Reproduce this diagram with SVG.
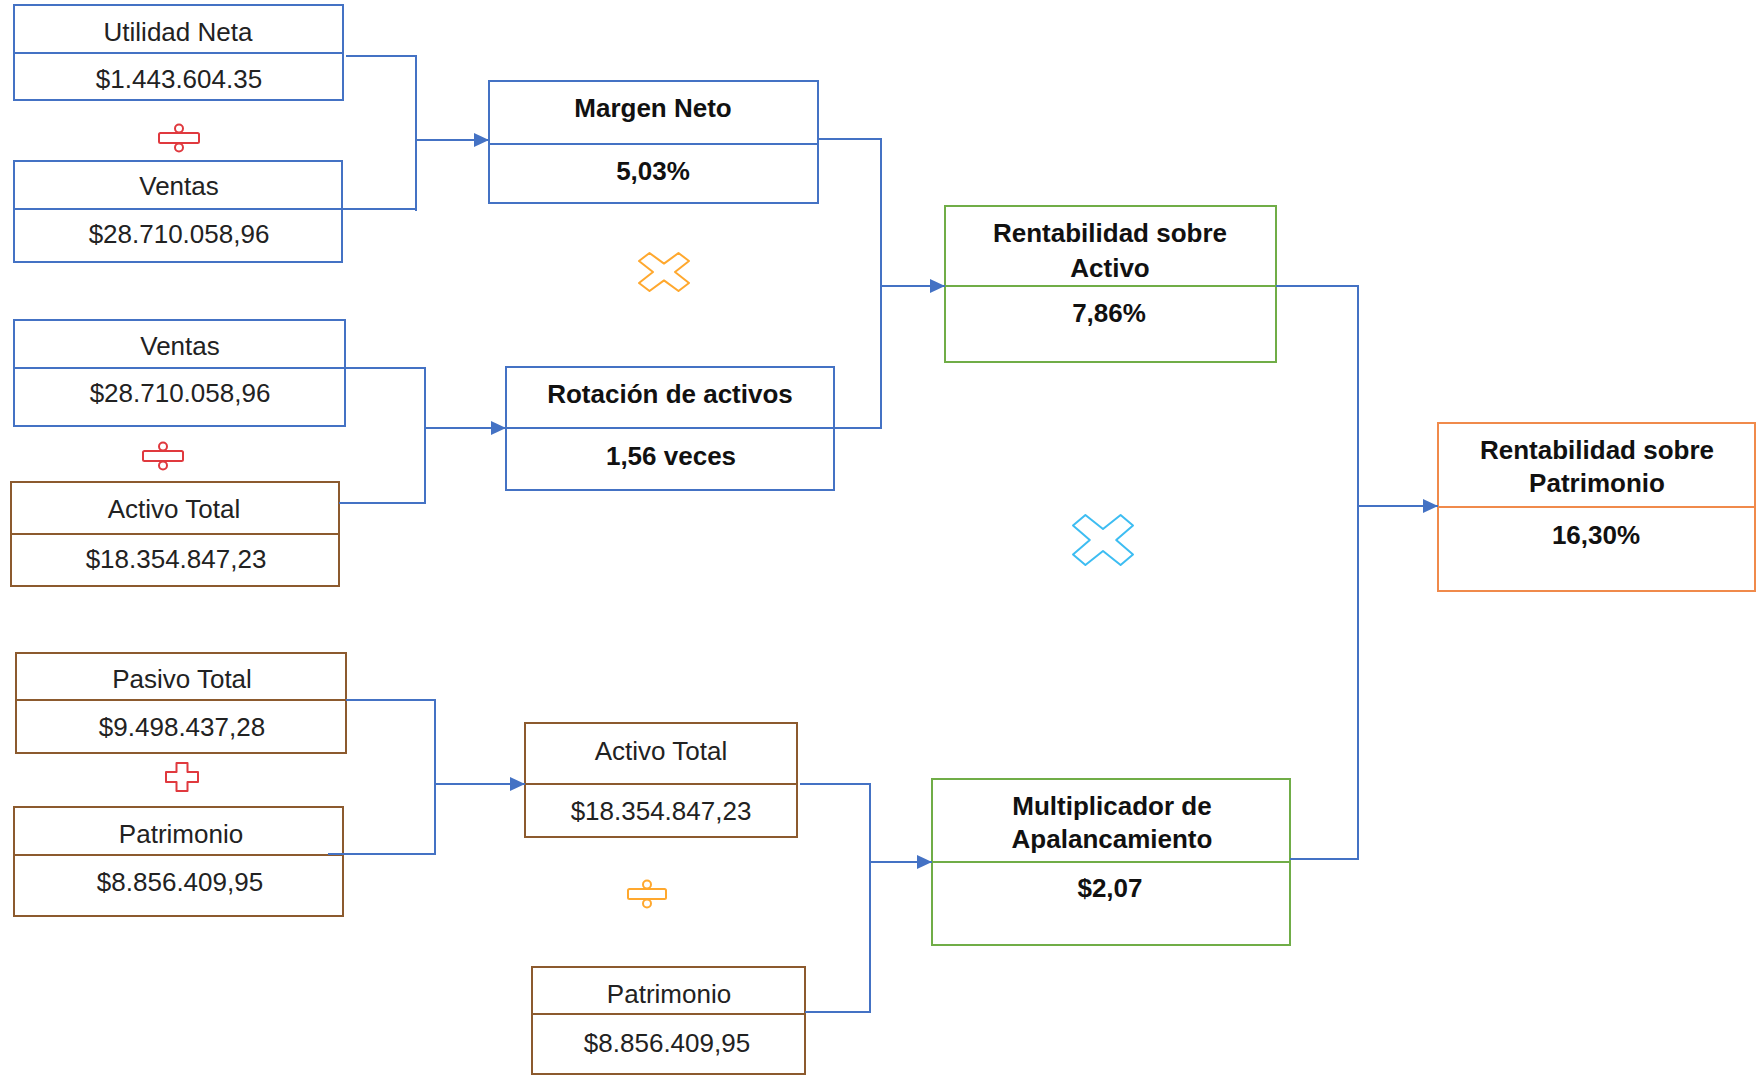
<svg xmlns="http://www.w3.org/2000/svg" width="1760" height="1076" viewBox="0 0 1760 1076">
  <style>
    .box { fill: #ffffff; stroke-width: 2; }
    .blue { stroke: #4472C4; }
    .brown { stroke: #8C5A2E; }
    .green { stroke: #70AD47; }
    .orange { stroke: #F08A4B; }
    .div { stroke-width: 2; fill: none; }
    .lbl { font-family: "Liberation Sans", Arial, sans-serif; font-size: 26px; fill: #222222; text-anchor: middle; }
    .b { font-weight: bold; fill: #111111; }
    .wire { fill: none; stroke: #4472C4; stroke-width: 2; }
    .arrow { marker-end: url(#tip); }
    .op { fill: #ffffff; stroke-width: 2; stroke-linejoin: round; }
  </style>
  <defs>
    <marker id="tip" markerUnits="userSpaceOnUse" markerWidth="15" markerHeight="14" refX="15" refY="7" orient="auto">
      <path d="M0,0 L15,7 L0,14 z" fill="#4472C4"/>
    </marker>
  </defs>
  <rect width="1760" height="1076" fill="#ffffff"/>

  <!-- input nodes -->
  <g id="n-utilidad-neta">
    <rect class="box blue" x="14" y="5" width="329" height="95"/>
    <line class="div blue" x1="14" y1="53" x2="343" y2="53"/>
    <text class="lbl" x="178" y="41">Utilidad Neta</text>
    <text class="lbl" x="179" y="88">$1.443.604.35</text>
  </g>
  <g id="n-ventas-1">
    <rect class="box blue" x="14" y="161" width="328" height="101"/>
    <line class="div blue" x1="14" y1="209" x2="342" y2="209"/>
    <text class="lbl" x="179" y="195">Ventas</text>
    <text class="lbl" x="179" y="243">$28.710.058,96</text>
  </g>
  <g id="n-ventas-2">
    <rect class="box blue" x="14" y="320" width="331" height="106"/>
    <line class="div blue" x1="14" y1="368" x2="345" y2="368"/>
    <text class="lbl" x="180" y="355">Ventas</text>
    <text class="lbl" x="180" y="402">$28.710.058,96</text>
  </g>
  <g id="n-activo-total-1">
    <rect class="box brown" x="11" y="482" width="328" height="104"/>
    <line class="div brown" x1="11" y1="534" x2="339" y2="534"/>
    <text class="lbl" x="174" y="518">Activo Total</text>
    <text class="lbl" x="176" y="568">$18.354.847,23</text>
  </g>
  <g id="n-pasivo-total">
    <rect class="box brown" x="16" y="653" width="330" height="100"/>
    <line class="div brown" x1="16" y1="700" x2="346" y2="700"/>
    <text class="lbl" x="182" y="688">Pasivo Total</text>
    <text class="lbl" x="182" y="736">$9.498.437,28</text>
  </g>
  <g id="n-patrimonio-1">
    <rect class="box brown" x="14" y="807" width="329" height="109"/>
    <line class="div brown" x1="14" y1="855" x2="343" y2="855"/>
    <text class="lbl" x="181" y="843">Patrimonio</text>
    <text class="lbl" x="180" y="891">$8.856.409,95</text>
  </g>

  <!-- intermediate nodes -->
  <g id="n-margen-neto">
    <rect class="box blue" x="489" y="81" width="329" height="122"/>
    <line class="div blue" x1="489" y1="144" x2="818" y2="144"/>
    <text class="lbl b" x="653" y="117">Margen Neto</text>
    <text class="lbl b" x="653" y="180">5,03%</text>
  </g>
  <g id="n-rotacion-activos">
    <rect class="box blue" x="506" y="367" width="328" height="123"/>
    <line class="div blue" x1="506" y1="428" x2="834" y2="428"/>
    <text class="lbl b" x="670" y="403">Rotación de activos</text>
    <text class="lbl b" x="671" y="465">1,56 veces</text>
  </g>
  <g id="n-activo-total-2">
    <rect class="box brown" x="525" y="723" width="272" height="114"/>
    <line class="div brown" x1="525" y1="784" x2="797" y2="784"/>
    <text class="lbl" x="661" y="760">Activo Total</text>
    <text class="lbl" x="661" y="820">$18.354.847,23</text>
  </g>
  <g id="n-patrimonio-2">
    <rect class="box brown" x="532" y="967" width="273" height="107"/>
    <line class="div brown" x1="532" y1="1014" x2="805" y2="1014"/>
    <text class="lbl" x="669" y="1003">Patrimonio</text>
    <text class="lbl" x="667" y="1052">$8.856.409,95</text>
  </g>

  <!-- ratio nodes -->
  <g id="n-roa">
    <rect class="box green" x="945" y="206" width="331" height="156"/>
    <line class="div green" x1="945" y1="286" x2="1276" y2="286"/>
    <text class="lbl b" x="1110" y="242">Rentabilidad sobre</text>
    <text class="lbl b" x="1110" y="277">Activo</text>
    <text class="lbl b" x="1109" y="322">7,86%</text>
  </g>
  <g id="n-multiplicador">
    <rect class="box green" x="932" y="779" width="358" height="166"/>
    <line class="div green" x1="932" y1="862" x2="1290" y2="862"/>
    <text class="lbl b" x="1112" y="815">Multiplicador de</text>
    <text class="lbl b" x="1112" y="848">Apalancamiento</text>
    <text class="lbl b" x="1110" y="897">$2,07</text>
  </g>
  <g id="n-roe">
    <rect class="box orange" x="1438" y="423" width="317" height="168"/>
    <line class="div orange" x1="1438" y1="507" x2="1755" y2="507"/>
    <text class="lbl b" x="1597" y="459">Rentabilidad sobre</text>
    <text class="lbl b" x="1597" y="492">Patrimonio</text>
    <text class="lbl b" x="1596" y="544">16,30%</text>
  </g>

  <!-- connectors, drawn over the box edges they leave from -->
  <g id="connectors">
    <path class="wire" d="M346,56 H416 V211"/>
    <path class="wire" d="M342,209 H416"/>
    <path class="wire arrow" d="M416,140 H489"/>

    <path class="wire" d="M345,368 H425 V503 H339"/>
    <path class="wire arrow" d="M425,428 H506"/>

    <path class="wire" d="M818,139 H881 V428 H834"/>
    <path class="wire arrow" d="M881,286 H945"/>

    <path class="wire" d="M346,700 H435 V854 H328"/>
    <path class="wire arrow" d="M435,784 H525"/>

    <path class="wire" d="M800,784 H870 V1012 H805"/>
    <path class="wire arrow" d="M870,862 H932"/>

    <path class="wire" d="M1276,286 H1358 V859 H1290"/>
    <path class="wire arrow" d="M1358,506 H1438"/>
  </g>

  <!-- operator signs -->
  <g id="operators">
    <g stroke="#E0393E" class="op">
      <rect x="159" y="133" width="40" height="10" rx="1.5"/>
      <circle cx="179" cy="128.5" r="4"/>
      <circle cx="179" cy="147.5" r="4"/>
    </g>
    <g stroke="#E0393E" class="op">
      <rect x="143" y="451" width="40" height="10" rx="1.5"/>
      <circle cx="163" cy="446.5" r="4"/>
      <circle cx="163" cy="465.5" r="4"/>
    </g>
    <polygon stroke="#E0393E" class="op" points="176.5,763 187.5,763 187.5,772 198,772 198,782 187.5,782 187.5,791 176.5,791 176.5,782 166,782 166,772 176.5,772"/>
    <g stroke="#FFA82E" class="op">
      <rect x="628" y="889" width="38" height="10" rx="1.5"/>
      <circle cx="647" cy="884.5" r="4"/>
      <circle cx="647" cy="903.5" r="4"/>
    </g>
    <polygon stroke="#FFA82E" class="op" points="649.5,253 664,263.6 678.5,253 689,261 675,272 689,283 678.5,291 664,280.4 649.5,291 639,283 653,272 639,261"/>
    <polygon stroke="#3DBDF2" class="op" points="1085.4,515 1103,529 1120.6,515 1133,525.5 1116.2,540 1133,554.5 1120.6,565 1103,551 1085.4,565 1073,554.5 1089.8,540 1073,525.5"/>
  </g>
</svg>
